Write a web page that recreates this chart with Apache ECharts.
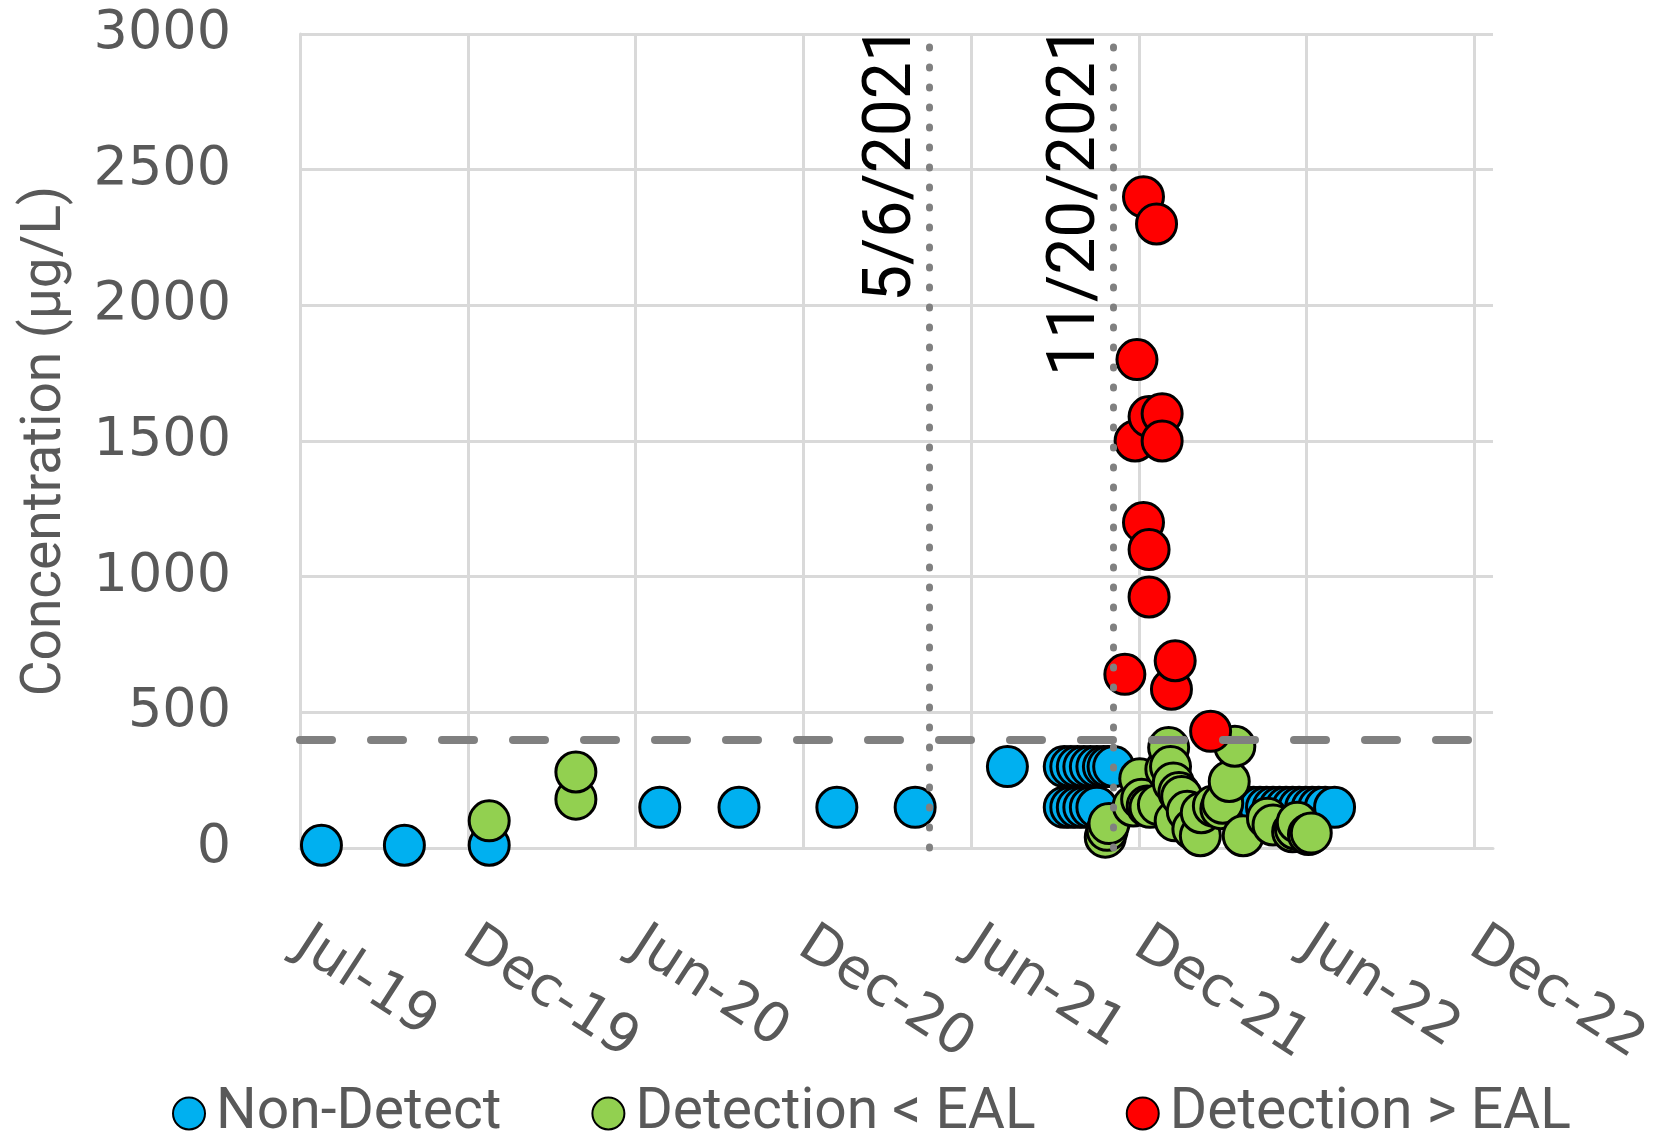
<!DOCTYPE html>
<html>
<head>
<meta charset="utf-8">
<script src="https://cdn.jsdelivr.net/npm/echarts@6/dist/echarts.min.js"></script>
<style>
html,body{margin:0;padding:0;background:#fff;}
#chart{width:1663px;height:1136px;}
</style>
</head>
<body>
<div id="chart"></div>
<script>
// ---------- data ----------
const axisStartDate = '2019-07-01';
const xTickIntervalDays = 180;
const xMaxDays = 1280;
const yTicks = [0, 500, 1000, 1500, 2000, 2500, 3000];
const ealValue = 400;
const eventDates = ['2021-05-06', '2021-11-20'];
const eventLabels = ['5/6/2021', '11/20/2021'];
const seriesNames = ['Non-Detect', 'Detection < EAL', 'Detection > EAL'];

const nonDetectDates = [
  '2019-07-24','2019-10-21','2020-01-20','2020-07-21','2020-10-14','2021-01-27','2021-04-21','2021-07-29',
  '2021-09-28','2021-10-05','2021-10-12','2021-10-19','2021-10-26','2021-11-02','2021-11-09','2021-11-14','2021-11-20',
  '2021-09-28','2021-10-05','2021-10-12','2021-10-19','2021-10-26','2021-11-02',
  '2022-04-12','2022-04-19','2022-04-26','2022-05-03','2022-05-10','2022-05-17','2022-05-24','2022-05-31',
  '2022-06-07','2022-06-14','2022-06-21','2022-06-28','2022-07-05','2022-07-15'
];
const nonDetectValues = [
  10,10,10,150,150,150,150,300,
  300,300,300,300,300,300,300,300,300,
  150,150,150,150,150,150,
  150,150,150,150,150,150,150,150,
  150,150,150,150,150,150
];

const belowEalDates = [
  '2020-01-20','2020-04-22','2020-04-22',
  '2021-11-11','2021-11-13','2021-11-15','2021-12-11','2021-12-18','2021-12-20','2021-12-26','2021-12-29',
  '2022-01-07','2022-01-15','2022-01-18','2022-01-20','2022-01-23','2022-01-25','2022-01-29','2022-02-01',
  '2022-02-07','2022-02-13','2022-02-21','2022-02-22','2022-03-07','2022-03-15','2022-03-17','2022-03-24',
  '2022-03-30','2022-04-08','2022-05-04','2022-05-10','2022-05-31','2022-06-03','2022-06-05','2022-06-17','2022-06-20'
];
const belowEalValues = [
  100,180,280,
  40,65,90,155,255,180,155,150,
  160,290,370,300,240,100,205,190,
  135,70,45,130,155,145,165,245,
  375,45,110,85,60,70,95,50,55
];

const aboveEalDates = [
  '2021-12-02','2021-12-13','2021-12-15','2021-12-22','2021-12-22','2021-12-28','2021-12-28','2021-12-28',
  '2022-01-05','2022-01-11','2022-01-11','2022-01-21','2022-01-25','2022-03-04'
];
const aboveEalValues = [
  640,1500,1800,2400,1200,1100,925,1590,
  2300,1600,1500,585,690,430
];

// ---------- helpers ----------
const DAY = 86400000;
const base = Date.parse(axisStartDate + 'T00:00:00Z');
const toDay = s => Math.round((Date.parse(s + 'T00:00:00Z') - base) / DAY);
const MONTHS = ['Jan','Feb','Mar','Apr','May','Jun','Jul','Aug','Sep','Oct','Nov','Dec'];
const pts = (d, v) => d.map((s, i) => [toDay(s), v[i]]);

const colors = ['#00B0F0', '#92D050', '#FF0000'];
const gridColor = '#D9D9D9';
const textGray = '#595959';

const chart = echarts.init(document.getElementById('chart'), null, {renderer: 'canvas'});

const scatterBase = (name, data, color, z) => ({
  name, type: 'scatter', data, z,
  symbol: 'circle', symbolSize: 40,
  itemStyle: {color, borderColor: '#000', borderWidth: 3, opacity: 1},
  emphasis: {disabled: true}, silent: true
});

const eventMarks = eventDates.map((d, i) => ({
  xAxis: toDay(d),
  lineStyle: {type: [1, 19], width: 7, color: '#808080', cap: 'round'},
  label: {
    show: true, formatter: eventLabels[i], position: 'insideEndTop',
    fontFamily: 'Roboto', fontSize: 66, color: '#000', distance: [-9, 3]
  }
}));

chart.setOption({
  animation: false,
  backgroundColor: '#fff',
  grid: {left: 300, right: 170, top: 34, bottom: 288, containLabel: false},
  legend: {
    data: seriesNames, left: 167, top: 1080,
    icon: 'circle', itemWidth: 32, itemHeight: 32, itemGap: 90,
    textStyle: {fontFamily: 'Roboto', fontSize: 57, color: textGray, padding: [0, 0, 0, 6]}
  },
  xAxis: {
    type: 'value', min: 0, max: xMaxDays, interval: xTickIntervalDays,
    axisLine: {show: true, lineStyle: {color: gridColor, width: 3}},
    axisTick: {show: false},
    splitLine: {show: true, showMaxLine: false, lineStyle: {color: gridColor, width: 3}},
    axisLabel: {
      rotate: -33, margin: 92, fontFamily: 'DejaVu Sans', fontSize: 55, color: textGray,
      showMaxLabel: false,
      formatter: v => {
        if (v % xTickIntervalDays !== 0) return '';
        const dt = new Date(base + v * DAY);
        return MONTHS[dt.getUTCMonth()] + '-' + String(dt.getUTCFullYear()).slice(2);
      }
    }
  },
  yAxis: {
    type: 'value', min: yTicks[0], max: yTicks[yTicks.length - 1], interval: yTicks[1] - yTicks[0],
    name: 'Concentration (µg/L)', nameLocation: 'middle', nameGap: 226,
    nameTextStyle: {fontFamily: 'Roboto', fontSize: 55, color: textGray},
    axisLine: {show: true, lineStyle: {color: gridColor, width: 3}},
    axisTick: {show: false},
    splitLine: {show: true, lineStyle: {color: gridColor, width: 3}},
    axisLabel: {margin: 69, fontFamily: 'DejaVu Sans', fontSize: 54, color: textGray, formatter: v => String(v)}
  },
  series: [
    {
      name: 'refs', type: 'scatter', data: [], z: 1, silent: true,
      markLine: {
        silent: true, symbol: 'none', animation: false,
        data: [
          {yAxis: ealValue, lineStyle: {type: [32, 39], width: 8, color: '#808080', cap: 'round'}, label: {show: false}},
          ...eventMarks
        ]
      }
    },
    scatterBase(seriesNames[0], pts(nonDetectDates, nonDetectValues), colors[0], 2),
    scatterBase(seriesNames[1], pts(belowEalDates, belowEalValues), colors[1], 3),
    scatterBase(seriesNames[2], pts(aboveEalDates, aboveEalValues), colors[2], 4)
  ]
});
</script>
</body>
</html>
